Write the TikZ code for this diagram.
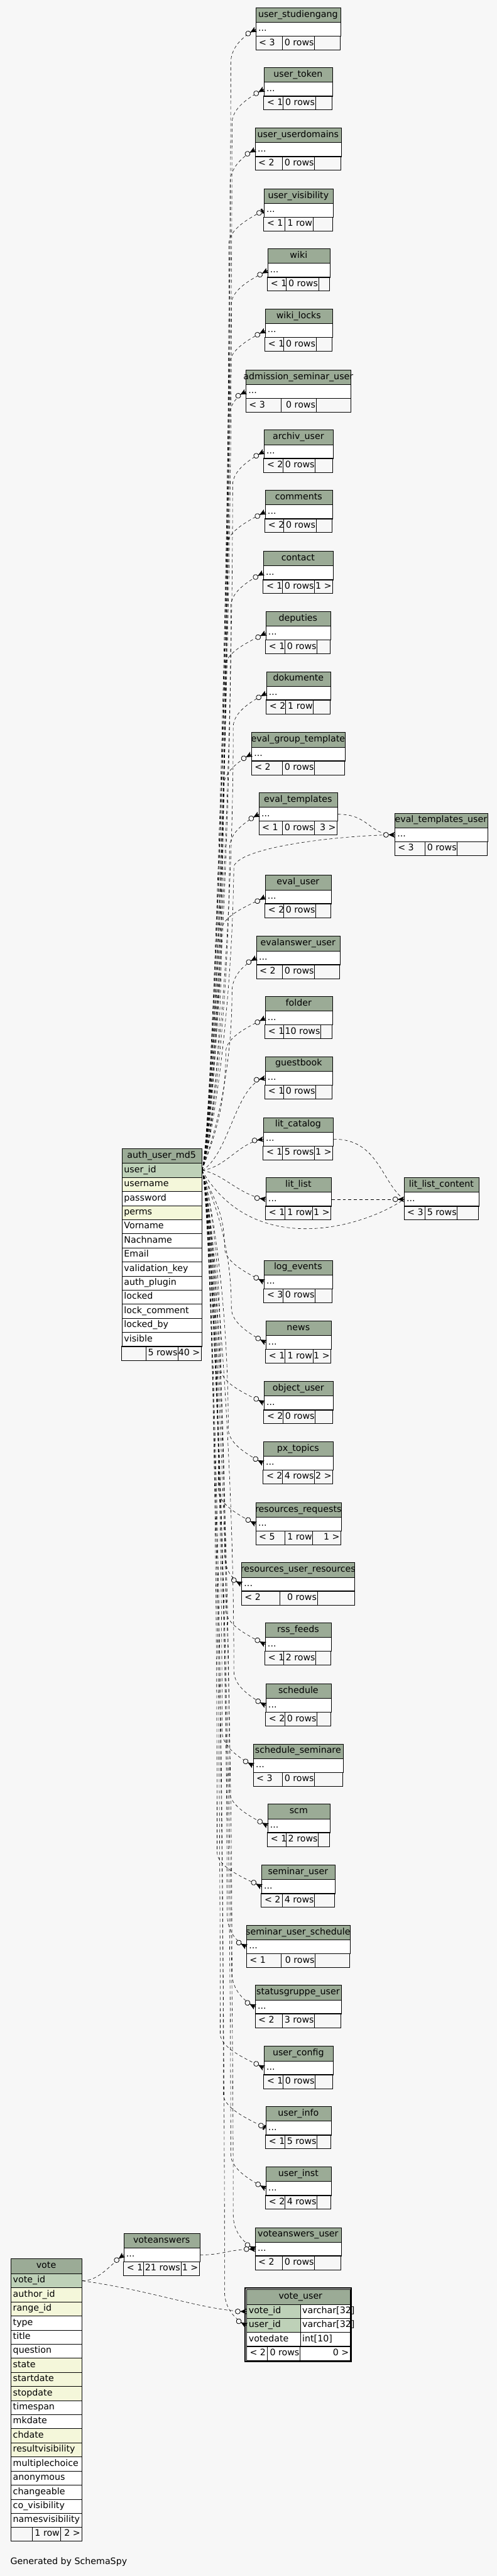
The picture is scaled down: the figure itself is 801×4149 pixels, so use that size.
\documentclass[tikz,border=0pt]{standalone}
\usepackage{fontspec}
\setmainfont{DejaVu Sans}
\definecolor{bgc}{HTML}{F7F7F7}
\definecolor{hdrc}{HTML}{9BAB96}
\definecolor{pkc}{HTML}{BED1B8}
\definecolor{idxc}{HTML}{F4F7DA}
\newlength\tbw
\newcommand\tfont{\fontsize{14.4}{17}\selectfont}
\newcommand\kids{}
\tikzset{
  txt/.style={font=\tfont, inner sep=0pt, text height=10.5pt, text depth=3pt},
  hdrcell/.style={draw, fill=hdrc, line width=0.9pt, inner sep=0pt},
  rowcell/.style={draw, fill=white, line width=0.9pt, inner sep=0pt},
  tline/.style={line width=0.9pt},
  rel/.style={line width=0.6pt, dash pattern=on 5pt off 4pt},
  crowmany/.pic={
      \draw[line width=0.8pt] (-10pt,0pt) -- (0pt,0pt);
      \fill (-10pt,0pt) -- (0pt,4.5pt) -- (-2.2pt,0pt) -- (0pt,-4.5pt) -- cycle;
      \filldraw[fill=bgc,line width=0.8pt] (-14pt,0pt) circle (4pt);},
  crowone/.pic={
      \draw[line width=0.8pt] (-4.6pt,0pt) -- (0pt,0pt);
      \fill (-4pt,-4pt) rectangle (-1.2pt,4pt);
      \filldraw[fill=bgc,line width=0.8pt] (-8.6pt,0pt) circle (4pt);},
}
% small table: #1 id #2 title #3 L #4 R #5 T #6 c1 #7 c2 #8 parents #9 rows
\newcommand\stbl[9]{%
  \pgfmathsetmacro\tW{#4-#3}%
  \pgfmathsetmacro\tC{(#3+#4)/2}%
  \settowidth\tbw{\tfont #2}%
  \pgfmathsetmacro\hX{\tC+0.05*\tbw}%
  \node[hdrcell, minimum width=\tW pt, minimum height=23.5pt, anchor=north west] (#1-h) at (#3,#5) {};
  \node[txt] (#1-ht) at (\hX,#5+11.75) {#2};
  \node[rowcell, minimum width=\tW pt, minimum height=22.5pt, anchor=north west] (#1-r) at (#3,#5+23.5) {};
  \node[txt,anchor=west] (#1-rt) at (#3+4,#5+34.75) {...};
  \draw[tline] (#3,#5+46) rectangle (#4,#5+68.5) (#6,#5+46) -- (#6,#5+68.5) (#7,#5+46) -- (#7,#5+68.5);
  \node[txt,anchor=west] (#1-p) at (#3+5,#5+57.25) {#8};
  \node[txt,anchor=east] (#1-n) at (#7-1,#5+57.25) {#9};
  \node[txt,anchor=east] (#1-k) at (#4-2,#5+57.25) {\kids};
  \gdef\kids{}%
}
% edge from auth_user_md5.user_id: #1 end pic, #2 target node, #3 target y, #4 bundle x
\newcommand\aedge[4][crowmany]{%
  \pgfmathsetmacro\sg{#3<1885 ? 1 : -1}%
  \pgfmathsetmacro\yw{#3+55*\sg}%
  \pgfmathsetmacro\ca{1885-40*\sg}%
  \pgfmathsetmacro\cb{\yw+0.5*(1885-\yw)}%
  \pgfmathsetmacro\cc{\yw-25*\sg}%
  \pgfmathsetmacro\ys{-12*\sg}%
  \pgfmathsetmacro\ang{28.6*\sg}%
  \draw[rel] (a-0.east) .. controls (340,\ca) and (#4,\cb) .. (#4,\yw)
     .. controls (#4,\cc) and ([xshift=-22pt,yshift=\ys pt]#2.west) .. (#2.west);%
  \pic[rotate=\ang] at (#2.west) {#1};%
}
\begin{document}
\begin{tikzpicture}[x=1pt,y=-1pt]
\useasboundingbox (0,0) rectangle (801,4149);
\fill[bgc] (0,0) rectangle (801,4149);

% ---------- right column tables ----------
\stbl{us}{user\_studiengang}{412.3}{548.7}{12.1}{455.3}{507.3}{< 3}{0 rows}
\stbl{ut}{user\_token}{425.3}{535.7}{108.5}{456.3}{508.7}{< 1}{0 rows}
\stbl{uud}{user\_userdomains}{411.3}{549.7}{205.8}{455.3}{507.3}{< 2}{0 rows}
\stbl{uv}{user\_visibility}{425.3}{536.7}{303.6}{459.7}{504.7}{< 1}{1 row}
\stbl{wk}{wiki}{431.3}{531.7}{400.4}{461.3}{513.7}{< 1}{0 rows}
\stbl{wl}{wiki\_locks}{427.3}{535.7}{497.3}{457.7}{509.7}{< 1}{0 rows}
\stbl{asu}{admission\_seminar\_user}{396.3}{565.7}{595.5}{453.3}{509.7}{< 3}{0 rows}
\stbl{au}{archiv\_user}{425.3}{536.7}{692.2}{456.3}{508.3}{< 2}{0 rows}
\stbl{cm}{comments}{427.3}{535.7}{789.3}{457.7}{509.7}{< 2}{0 rows}
\renewcommand\kids{1 >}\stbl{ct}{contact}{424.3}{536.7}{887.5}{455.3}{507.3}{< 1}{0 rows}
\stbl{dp}{deputies}{428.3}{532.7}{984.4}{459.3}{511.3}{< 1}{0 rows}
\stbl{dk}{dokumente}{429.3}{532.7}{1081.3}{460.3}{505.3}{< 2}{1 row}
\stbl{egt}{eval\_group\_template}{405.3}{555.7}{1179.5}{455.3}{507.3}{< 2}{0 rows}
\renewcommand\kids{3 >}\stbl{et}{eval\_templates}{417.3}{543.7}{1276.3}{455.3}{507.3}{< 1}{0 rows}
\stbl{etu}{eval\_templates\_user}{636.3}{785.7}{1309.4}{685.3}{737.3}{< 3}{0 rows}
\stbl{eu}{eval\_user}{427.3}{533.7}{1409.4}{457.3}{509.3}{< 2}{0 rows}
\stbl{eau}{evalanswer\_user}{413.3}{547.7}{1507.6}{455.3}{507.3}{< 2}{0 rows}
\stbl{fo}{folder}{427.3}{535.7}{1604.5}{457.3}{517.3}{< 1}{10 rows}
\stbl{gb}{guestbook}{427.3}{535.7}{1701.3}{457.3}{509.3}{< 1}{0 rows}
\renewcommand\kids{1 >}\stbl{lc}{lit\_catalog}{424.3}{536.7}{1799.6}{455.3}{507.3}{< 1}{5 rows}
\renewcommand\kids{1 >}\stbl{ll}{lit\_list}{428.3}{533.7}{1896.4}{459.3}{504.3}{< 1}{1 row}
\stbl{llc}{lit\_list\_content}{651.3}{771.7}{1896.4}{685.3}{737.3}{< 3}{5 rows}
\stbl{le}{log\_events}{425.3}{535.7}{2029.5}{456.3}{508.3}{< 3}{0 rows}
\renewcommand\kids{1 >}\stbl{nw}{news}{428.3}{533.7}{2127.2}{459.3}{504.7}{< 1}{1 row}
\stbl{ou}{object\_user}{425.3}{536.7}{2224.6}{456.3}{508.3}{< 2}{0 rows}
\renewcommand\kids{2 >}\stbl{px}{px\_topics}{424.3}{536.7}{2321.4}{455.3}{507.3}{< 2}{4 rows}
\renewcommand\kids{1 >}\stbl{rr}{resources\_requests}{412.3}{549.7}{2419.6}{459.3}{504.3}{< 5}{1 row}
\stbl{rur}{resources\_user\_resources}{389.3}{571.7}{2516.5}{451.3}{511.7}{< 2}{0 rows}
\stbl{rss}{rss\_feeds}{427.3}{533.7}{2613.4}{457.3}{509.3}{< 1}{2 rows}
\stbl{sc}{schedule}{428.3}{533.7}{2711.6}{459.3}{511.3}{< 2}{0 rows}
\stbl{ss}{schedule\_seminare}{408.3}{552.7}{2808.5}{455.3}{507.3}{< 3}{0 rows}
\stbl{scm}{scm}{431.3}{531.7}{2905.4}{461.3}{513.3}{< 1}{2 rows}
\stbl{su}{seminar\_user}{421.3}{539.7}{3003.6}{455.3}{507.3}{< 2}{4 rows}
\stbl{sus}{seminar\_user\_schedule}{397.3}{563.7}{3100.4}{453.3}{508.3}{< 1}{0 rows}
\stbl{sgu}{statusgruppe\_user}{411.3}{549.7}{3197.3}{455.3}{507.3}{< 2}{3 rows}
\stbl{uc}{user\_config}{425.3}{536.7}{3295.5}{456.3}{508.3}{< 1}{0 rows}
\stbl{ui}{user\_info}{428.3}{533.7}{3392.4}{459.3}{511.3}{< 1}{5 rows}
\stbl{uin}{user\_inst}{428.3}{533.7}{3489.7}{459.3}{511.3}{< 2}{4 rows}
\stbl{vau}{voteanswers\_user}{411.3}{549.7}{3587.3}{455.3}{507.3}{< 2}{0 rows}
\renewcommand\kids{1 >}\stbl{va}{voteanswers}{199.3}{321.7}{3596.6}{231.3}{291.7}{< 1}{21 rows}

% ---------- auth_user_md5 ----------
\node[hdrcell, minimum width=128.4pt, minimum height=24pt, anchor=north west] (a-h) at (196.3,1849.3) {};
\settowidth\tbw{\tfont auth\_user\_md5}
\pgfmathsetmacro\hX{260.5+0.05*\tbw}
\node[txt] (a-ht) at (\hX,1861.3) {auth\_user\_md5};
\foreach \t/\c [count=\i from 0] in {user\_id/pkc, username/idxc, password/white, perms/idxc, Vorname/white, Nachname/white, Email/white, validation\_key/white, auth\_plugin/white, locked/white, lock\_comment/white, locked\_by/white, visible/white} {
  \node[rowcell, fill=\c, minimum width=128.4pt, minimum height=22.7pt, anchor=north west] (a-\i) at (196.3,{1873.3+22.7*\i}) {};
  \node[txt,anchor=west] (a-t\i) at (199.8,{1884.65+22.7*\i}) {\t};
}
\draw[tline] (196.3,2168.4) rectangle (324.7,2191.1) (235.3,2168.4) -- (235.3,2191.1) (287.3,2168.4) -- (287.3,2191.1);
\node[txt,anchor=east] (a-n) at (286.3,2179.75) {5 rows};
\node[txt,anchor=east] (a-k) at (322.7,2179.75) {40 >};

% ---------- vote ----------
\node[hdrcell, minimum width=114.4pt, minimum height=24.5pt, anchor=north west] (v-h) at (17.3,3637.2) {};
\settowidth\tbw{\tfont vote}
\pgfmathsetmacro\hX{74.5+0.05*\tbw}
\node[txt] (v-ht) at (\hX,3649.45) {vote};
\foreach \t/\c [count=\i from 0] in {vote\_id/pkc, author\_id/idxc, range\_id/idxc, type/white, title/white, question/white, state/idxc, startdate/idxc, stopdate/idxc, timespan/white, mkdate/white, chdate/idxc, resultvisibility/idxc, multiplechoice/white, anonymous/white, changeable/white, co\_visibility/white, namesvisibility/white} {
  \node[rowcell, fill=\c, minimum width=114.4pt, minimum height=22.7pt, anchor=north west] (v-\i) at (17.3,{3661.7+22.7*\i}) {};
  \node[txt,anchor=west] (v-t\i) at (20.8,{3673.05+22.7*\i}) {\t};
}
\draw[tline] (17.3,4070.3) rectangle (131.7,4092.3) (52.3,4070.3) -- (52.3,4092.3) (97.3,4070.3) -- (97.3,4092.3);
\node[txt,anchor=east] (v-n) at (96.3,4081.3) {1 row};
\node[txt,anchor=east] (v-k) at (129.7,4081.3) {2 >};

% ---------- vote_user ----------
\filldraw[fill=white, line width=2pt] (395.2,3685.5) rectangle (566.2,3803.7);
\node[hdrcell, minimum width=167.4pt, minimum height=23.6pt, anchor=north west] (vu-h) at (397.3,3687.5) {};
\node[txt] (vu-ht) at (484.5,3699.3) {vote\_user};
\foreach \t/\ty/\c [count=\i from 0] in {vote\_id/varchar[32]/pkc, user\_id/varchar[32]/pkc, votedate/int[10]/white} {
  \node[rowcell, fill=\c, minimum width=86.4pt, minimum height=22.6pt, anchor=north west] (vu-\i) at (397.3,{3711.1+22.6*\i}) {};
  \node[rowcell, minimum width=81pt, minimum height=22.6pt, anchor=north west] (vu-\i r) at (483.7,{3711.1+22.6*\i}) {};
  \node[txt,anchor=west] (vu-t\i) at (400.8,{3722.4+22.6*\i}) {\t};
  \node[txt,anchor=west] (vu-y\i) at (487.2,{3722.4+22.6*\i}) {\ty};
}
\draw[tline] (397.3,3778.9) rectangle (564.7,3801.5) (431.3,3778.9) -- (431.3,3801.5) (483.7,3778.9) -- (483.7,3801.5);
\node[txt,anchor=west] (vu-p) at (402.5,3790.2) {< 2};
\node[txt,anchor=east] (vu-n) at (482.7,3790.2) {0 rows};
\node[txt,anchor=east] (vu-k) at (562.7,3790.2) {0 >};

% ---------- caption ----------
\node[txt,anchor=west] (cap) at (16.7,4126.7) {Generated by SchemaSpy};

% ---------- relationships from auth_user_md5 ----------
\foreach \n/\y/\xw in {us-r/46.85/372, ut-r/143.25/374, uud-r/240.55/371, wk-r/435.15/373, wl-r/532.05/370, asu-r/630.25/368, au-r/726.95/375, cm-r/824.05/366, ct-r/922.25/372, dp-r/1019.15/363, dk-r/1116.05/376, egt-r/1214.25/360, et-r/1311.05/370, eu-r/1444.15/357, eau-r/1542.35/374, fo-r/1639.25/364, le-r/2064.25/362, nw-r/2161.95/373, ou-r/2259.35/356, px-r/2356.15/368, rr-r/2454.35/352, rur-r/2551.25/362, rss-r/2648.15/364, sc-r/2746.35/377, ss-r/2843.25/358, scm-r/2940.15/370, su-r/3038.35/350, sus-r/3135.15/366, sgu-r/3232.05/374, uc-r/3330.25/355, uin-r/3524.45/372, vau-r/3622.05/376, vu-1/3745/362} {
  \aedge{\n}{\y}{\xw}
}
\aedge[crowone]{uv-r}{338.35}{369}
\aedge[crowone]{ui-r}{3427.15}{360}
\draw[rel] (a-0.east) .. controls (370,1860) and (380,1745) .. (gb-r.west);
\pic[rotate=10.7] at (gb-r.west) {crowmany};
\draw[rel] (a-0.east) .. controls (365,1880) and (385,1840) .. (lc-r.west);
\pic[rotate=8.2] at (lc-r.west) {crowmany};
\draw[rel] (a-0.east) .. controls (360,1890) and (385,1925) .. (ll-r.west);
\pic[rotate=-8.1] at (ll-r.west) {crowmany};
\draw[rel] (a-0.east) .. controls (340,1845) and (374,1640) .. (377,1395)
   .. controls (390,1362) and (560,1345) .. (etu-r.west);
\draw[rel] (a-0.east) .. controls (410,2030) and (590,1975) .. (llc-r.west);

% ---------- other relationships ----------
\draw[rel] (et-r.east) .. controls (595,1311) and (595,1345) .. (etu-r.west);
\pic at (etu-r.west) {crowmany};
\draw[rel] (lc-r.east) .. controls (610,1834) and (615,1905) .. (llc-r.west);
\draw[rel] (ll-r.east) -- (llc-r.west);
\pic at (llc-r.west) {crowmany};
\draw[rel] (v-0.east) .. controls (160,3673) and (175,3650) .. (va-r.west);
\pic[rotate=36.7] at (va-r.west) {crowmany};
\draw[rel] (v-0.east) .. controls (250,3690) and (330,3722) .. (vu-0.west);
\pic at (vu-0.west) {crowmany};
\draw[rel] (va-r.east) .. controls (360,3632) and (370,3622) .. (vau-r.west);
\pic at (vau-r.west) {crowmany};
\end{tikzpicture}
\end{document}
